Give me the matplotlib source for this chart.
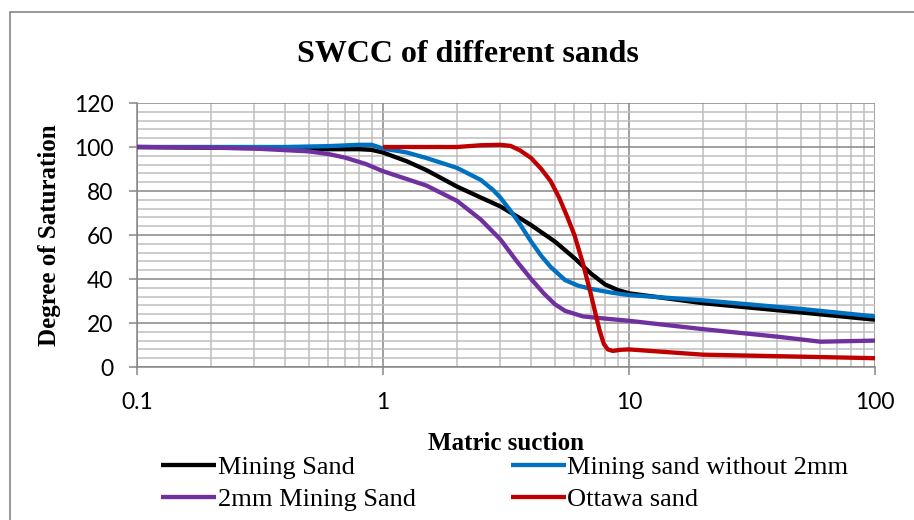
import matplotlib
matplotlib.use("Agg")
import matplotlib.pyplot as plt
from matplotlib.patches import Rectangle
from matplotlib.ticker import LogLocator, FixedLocator, NullFormatter

# --- data (matric suction vs degree of saturation) ---
mining_x = [0.1, 0.2, 0.4, 0.6, 0.8, 0.9, 1, 1.25, 1.5, 2, 2.5, 3, 3.5, 4, 5, 6, 7, 8, 9, 10,
            20, 50, 100]
mining_y = [100, 99.7, 99.3, 99, 99, 98.7, 97.5, 93.5, 89.5, 82, 77, 73, 68.5, 64.5, 57, 49.5,
            42.5, 37.5, 35, 33.5, 29, 24.8, 21.5]

no2mm_x = [0.1, 0.2, 0.4, 0.6, 0.8, 0.9, 1, 1.25, 1.5, 2, 2.5, 2.8, 3, 3.3, 3.6, 4, 4.4, 4.8,
           5.5, 6.2, 7, 8.5, 10, 20, 50, 100]
no2mm_y = [100, 100, 100, 100.4, 101, 101, 99.3, 97.5, 95, 90.5, 85, 80.5, 77, 71, 65, 57, 50.5,
           45.5, 39.5, 37, 35.5, 33.8, 32.7, 30.3, 26.4, 23]

twomm_x = [0.1, 0.2, 0.3, 0.5, 0.6, 0.7, 0.85, 1, 1.5, 2, 2.5, 3, 3.5, 4, 4.5, 5, 5.5, 6.5, 8,
           10, 20, 40, 60, 100]
twomm_y = [100, 99.7, 99.3, 98, 96.8, 95.2, 92.3, 89, 82.5, 75.5, 67, 58, 48, 40, 33.5, 28.5,
           25.5, 23, 22, 21, 17.2, 13.8, 11.5, 12]

ottawa_x = [1, 1.5, 2, 2.5, 3, 3.3, 3.6, 4, 4.4, 4.8, 5.2, 5.6, 6, 6.5, 7, 7.3, 7.6, 7.9, 8.2,
            8.6, 9.2, 10, 20, 50, 100]
ottawa_y = [100, 100, 100, 100.8, 101, 100.5, 98.5, 95, 90, 84.5, 77, 68.5, 60, 47, 33, 24.5,
            16.5, 10.5, 8, 7.3, 7.8, 8, 5.6, 4.7, 4]

series = [
    ("Mining Sand", mining_x, mining_y, "#000000"),
    ("2mm Mining Sand", twomm_x, twomm_y, "#7030A0"),
    ("Mining sand without 2mm", no2mm_x, no2mm_y, "#0070C0"),
    ("Ottawa sand", ottawa_x, ottawa_y, "#C00000"),
]
y_ticks = [0, 20, 40, 60, 80, 100, 120]
x_ticks = [0.1, 1, 10, 100]
x_tick_labels = ["0.1", "1", "10", "100"]

W, H = 914, 520
fig = plt.figure(figsize=(W / 100, H / 100), dpi=100)
ax = fig.add_axes([137 / W, 1 - 367 / H, (875 - 137) / W, (367 - 103) / H])

# draw order: Ottawa last so it sits on top
for name in ["Mining Sand", "Mining sand without 2mm", "2mm Mining Sand", "Ottawa sand"]:
    for lab, xs, ys, c in series:
        if lab == name:
            ax.plot(xs, ys, color=c, lw=3.1, label=lab, solid_capstyle="butt",
                    solid_joinstyle="round", zorder=3)

ax.set_xscale("log")
ax.set_xlim(0.1, 100)
ax.set_ylim(0, 120)

ax.xaxis.set_major_locator(FixedLocator(x_ticks))
ax.set_xticklabels(x_tick_labels)
ax.xaxis.set_minor_locator(LogLocator(base=10, subs=range(2, 10)))
ax.xaxis.set_minor_formatter(NullFormatter())
ax.set_yticks(y_ticks)
ax.yaxis.set_minor_locator(FixedLocator([v for v in range(0, 121, 4) if v % 20]))

major_c, minor_c = "#868686", "#BEBEBE"
ax.grid(which="major", color=major_c, lw=1.1)
ax.grid(which="minor", color=minor_c, lw=1.1)
ax.set_axisbelow(True)
for s in ["top", "right"]:
    ax.spines[s].set_visible(False)
for s in ["left", "bottom"]:
    ax.spines[s].set_color(major_c)
    ax.spines[s].set_linewidth(1.1)

tick_font = dict(family=["Lato", "DejaVu Sans"], size=16.5)
ax.tick_params(axis="x", which="major", length=6, width=1.1, color=major_c, pad=12)
ax.tick_params(axis="y", which="major", length=6, width=1.1, color=major_c, pad=11)
ax.tick_params(which="minor", length=0)
for t in ax.get_xticklabels() + ax.get_yticklabels():
    t.set_fontfamily(tick_font["family"])
    t.set_fontsize(tick_font["size"])

serif = ["Liberation Serif", "DejaVu Serif"]
fig.text(468 / W, 1 - 62 / H, "SWCC of different sands", ha="center", va="baseline",
         fontsize=23, fontweight="bold", family=serif)
fig.text(506 / W, 1 - 450 / H, "Matric suction", ha="center", va="baseline",
         fontsize=18, fontweight="bold", family=serif)
fig.text(50 / W, 1 - 235 / H, "Degree of Saturation", ha="center", va="center",
         rotation=90, fontsize=18, fontweight="bold", family=serif)

handles, labels = ax.get_legend_handles_labels()
order = ["Mining Sand", "2mm Mining Sand", "Mining sand without 2mm", "Ottawa sand"]
hl = {l: h for h, l in zip(handles, labels)}
fig.legend([hl[l] for l in order], order, ncol=2, loc="upper left",
           bbox_to_anchor=(161 / W, 1 - 456 / H), frameon=False,
           prop=dict(family=serif, size=19), handlelength=2.1, handletextpad=0.05,
           columnspacing=3.6, labelspacing=0.3, borderpad=0, borderaxespad=0)

fig.add_artist(Rectangle((10 / W, -0.1), 1.2, 1.1 - 12.5 / H, transform=fig.transFigure,
                         fill=False, edgecolor=major_c, lw=1.2))

fig.savefig("out.png", dpi=100)
